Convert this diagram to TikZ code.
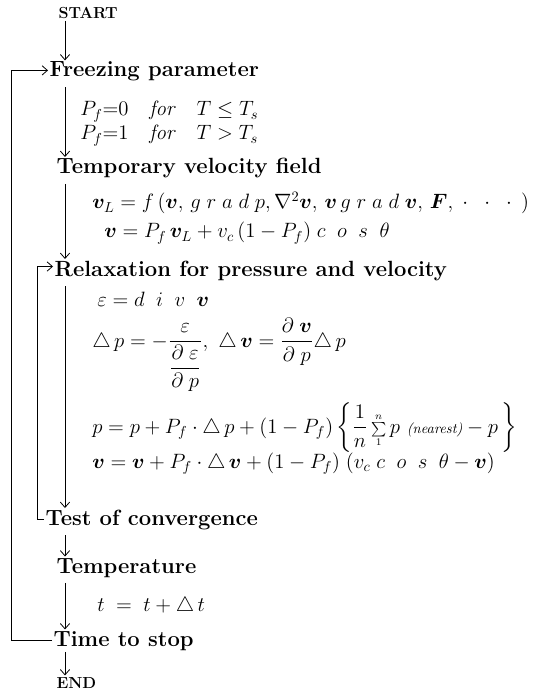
\documentclass[tikz,border=0pt]{standalone}
\usepackage{amsmath,amssymb,bm}
\usetikzlibrary{arrows.meta}

\begin{document}
\begin{tikzpicture}[x=0.75pt, y=-0.75pt,
  head/.style={anchor=base west, inner sep=1pt, font=\fontsize{16.5}{19}\selectfont\bfseries},
  term/.style={anchor=base west, inner sep=1pt, font=\fontsize{12}{14}\selectfont\bfseries},
  eqn/.style={anchor=base west, inner sep=0pt, font=\fontsize{14.4}{17}\selectfont, scale=1.08},
  flow/.style={line width=0.6pt, -{Straight Barb[length=4pt,width=7pt]}}]
  \useasboundingbox (0,0) rectangle (536,695);

  % steps of the scheme
  \node[term] (start) at (57,19) {START};
  \node[head] (frz) at (48,77) {Freezing parameter};
  \node[head] (tmp) at (55,174) {Temporary velocity field};
  \node[head] (rlx) at (53,276) {Relaxation for pressure and velocity};
  \node[head] (tst) at (44,525) {Test of convergence};
  \node[head] (tem) at (55,573) {Temperature};
  \node[head] (stp) at (52,646) {Time to stop};
  \node[term] (end) at (55,688) {END};

  % formulas beside the spine
  \node[eqn] (pf0) at (80,116) {$P_{f}{=}0$\quad\textit{for}\quad$T\leq T_{s}$};
  \node[eqn] (pf1) at (80,140) {$P_{f}{=}1$\quad\textit{for}\quad$T>T_{s}$};
  \node[eqn] (vl) at (92,209)
    {$\bm{v}_{L}=f\,(\bm{v},\,g\;r\;a\;d\;p,\nabla^{2}\bm{v},\,\bm{v}\,g\;r\;a\;d\;\bm{v},\,\bm{F},\;\cdot\;\;\cdot\;\;\cdot\;\,)$};
  \node[eqn] (vv) at (104,238)
    {$\bm{v}=P_{f}\,\bm{v}_{L}+v_{c}\,(1-P_{f})\;c\;\;o\;\;s\;\;\theta$};
  \node[eqn] (div) at (97,306) {$\varepsilon=d\;\;i\;\;v\;\;\bm{v}$};
  \node[eqn] (dp) at (92,347)
    {$\triangle\,p=-\dfrac{\varepsilon}{\dfrac{\partial\;\varepsilon}{\partial\;p}},\ \triangle\,\bm{v}=\dfrac{\partial\;\bm{v}}{\partial\;p}\triangle\,p$};
  \node[eqn] (pp) at (92,433)
    {$p=p+P_{f}\cdot\triangle\,p+(1-P_{f})\left\{\dfrac{1}{n}\,{\scriptstyle\sum\limits_{1}^{n}}\,p\ \text{\fontsize{10}{12}\selectfont\itshape(nearest)}-p\,\right\}$};
  \node[eqn] (uu) at (92,468)
    {$\bm{v}=\bm{v}+P_{f}\cdot\triangle\,\bm{v}+(1-P_{f})\;(v_{c}\;c\;\;o\;\;s\;\;\theta-\bm{v})$};
  \node[eqn] (dt) at (97,611) {$t\;=\;t+\triangle\,t$};

  % spine and loops
  \coordinate (spine) at (65,0);
  \coordinate (outer) at (11,0);
  \coordinate (inner) at (37,0);
  \draw[flow] (start.south -| spine) -- (frz.north -| spine);
  \draw[flow] ([yshift=-3pt]frz.south -| spine) -- (tmp.north -| spine);
  \draw[flow] ([yshift=-3pt]tmp.south -| spine) -- (rlx.north -| spine);
  \draw[flow] ([yshift=-3pt]rlx.south -| spine) -- (tst.north -| spine);
  \draw[flow] ([yshift=-3pt]tst.south -| spine) -- (tem.north -| spine);
  \draw[flow] ([yshift=-3pt]tem.south -| spine) -- (stp.north -| spine);
  \draw[flow] (stp.south -| spine) -- (end.north -| spine);
  \draw[flow] (stp.west) -- (stp.west -| outer) |- ([yshift=1pt]frz.west);
  \draw[flow] (tst.west) -- (tst.west -| inner) |- ([yshift=3pt]rlx.west);
\end{tikzpicture}
\end{document}
